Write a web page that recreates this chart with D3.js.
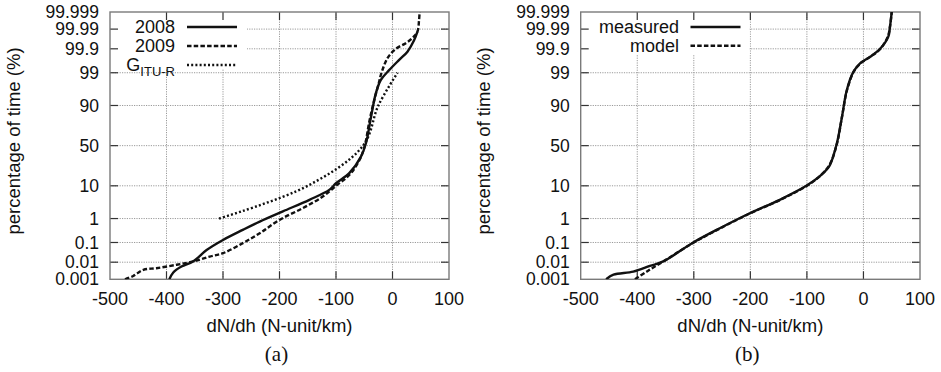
<!DOCTYPE html>
<html>
<head>
<meta charset="utf-8">
<script src="https://cdn.jsdelivr.net/npm/d3@7"></script>
<style>
  body { margin: 0; background: #fff; }
  text { font-family: "Liberation Sans", Arial, sans-serif; fill: #111; }
</style>
</head>
<body>
<script>
// tick values
const xTicks = [-500, -400, -300, -200, -100, 0, 100];
const yTickPct = [0.001, 0.01, 0.1, 1, 10, 50, 90, 99, 99.9, 99.99, 99.999];
const yTickLabels = ["0.001", "0.01", "0.1", "1", "10", "50", "90", "99", "99.9", "99.99", "99.999"];

// panel (a): [dN/dh, percentage of time]
const year2008 = [
  [-395, 0.001], [-388, 0.0026], [-373.5, 0.0057], [-353, 0.011], [-329, 0.043],
  [-300, 0.13], [-265, 0.36], [-235, 0.77], [-194, 1.8], [-147, 4.2], [-112, 7.9],
  [-100, 11.5], [-76.5, 19], [-56, 36], [-47, 53], [-38, 82], [-29.4, 95.3],
  [-20.6, 98.2], [-6, 99.2], [11.8, 99.69], [26.5, 99.865], [38, 99.96], [44, 99.986]
];
const year2009 = [
  [-473.5, 0.001], [-459, 0.0016], [-441, 0.0037], [-418, 0.0046], [-382, 0.0072],
  [-353, 0.011], [-323.5, 0.02], [-300, 0.03], [-265, 0.093], [-235, 0.26],
  [-200, 0.89], [-159, 2.3], [-123.5, 5.2], [-100, 10], [-76, 17.6], [-58, 33],
  [-49, 50], [-41, 78], [-32, 93], [-24, 97.8], [-20.6, 98.8], [-8.8, 99.74],
  [6, 99.9], [23.5, 99.946], [35, 99.97], [44, 99.986], [47, 99.997], [48, 99.999]
];
const ituR = [[-307, 1], [-150, 10], [-52, 50], [-25, 90], [8.8, 99]];

// panel (b)
const measured = [
  [-455, 0.001], [-442, 0.0019], [-407, 0.0029], [-377.6, 0.0062], [-354, 0.011],
  [-301, 0.1], [-254, 0.42], [-201, 1.55], [-148, 4.2], [-101, 10], [-77, 16.5],
  [-63, 23.5], [-59, 27], [-47, 53], [-38, 82], [-29.4, 96.2], [-17.6, 99.09],
  [-6, 99.57], [11.8, 99.77], [29.4, 99.9], [44, 99.975], [47, 99.993], [50, 99.999]
];
const model = [
  [-404, 0.001], [-383.5, 0.0029], [-354, 0.011], [-300, 0.1], [-253, 0.42],
  [-200, 1.55], [-147, 4.2], [-100, 10], [-76, 17], [-60, 27], [-47, 52],
  [-38, 82], [-29, 96.2], [-17, 99.1], [-5, 99.57], [12, 99.77], [30, 99.9],
  [43, 99.975], [47, 99.993], [50, 99.999]
];

// inverse normal CDF (Acklam), used for the probability axis
function probit(p) {
  const a = [-3.969683028665376e+01, 2.209460984245205e+02, -2.759285104469687e+02, 1.383577518672690e+02, -3.066479806614716e+01, 2.506628277459239e+00];
  const b = [-5.447609879822406e+01, 1.615858368580409e+02, -1.556989798598866e+02, 6.680131188771972e+01, -1.328068155288572e+01];
  const c = [-7.784894002430293e-03, -3.223964580411365e-01, -2.400758277161838e+00, -2.549732539343734e+00, 4.374664141464968e+00, 2.938163982698783e+00];
  const d = [7.784695709041462e-03, 3.224671290700398e-01, 2.445134137142996e+00, 3.754408661907416e+00];
  const pl = 0.02425;
  let q, r;
  if (p < pl) {
    q = Math.sqrt(-2 * Math.log(p));
    return (((((c[0]*q+c[1])*q+c[2])*q+c[3])*q+c[4])*q+c[5]) / ((((d[0]*q+d[1])*q+d[2])*q+d[3])*q+1);
  } else if (p <= 1 - pl) {
    q = p - 0.5; r = q * q;
    return (((((a[0]*r+a[1])*r+a[2])*r+a[3])*r+a[4])*r+a[5])*q / (((((b[0]*r+b[1])*r+b[2])*r+b[3])*r+b[4])*r+1);
  } else {
    q = Math.sqrt(-2 * Math.log(1 - p));
    return -(((((c[0]*q+c[1])*q+c[2])*q+c[3])*q+c[4])*q+c[5]) / ((((d[0]*q+d[1])*q+d[2])*q+d[3])*q+1);
  }
}

const W = 941, H = 372;
const plotTop = 12, plotBottom = 279.3;

const svg = d3.select("body").append("svg")
  .attr("width", W).attr("height", H)
  .attr("xmlns", "http://www.w3.org/2000/svg");

const styles = {
  solid: null,
  dashed: "4.5,2.2",
  dotted: "2,2.2"
};

function drawPanel(id, left, right, series, legend, caption) {
  const x = d3.scaleLinear().domain([-500, 100]).range([left, right]);
  const z = d3.scaleLinear().domain([probit(0.00001), probit(0.99999)]).range([plotBottom, plotTop]);
  const y = pct => z(probit(pct / 100));

  const g = svg.append("g");

  // grid
  const grid = g.append("g").attr("stroke", "#9a9a9a").attr("stroke-width", 1)
    .attr("stroke-dasharray", "1.2,1.2");
  grid.selectAll("line.v").data(xTicks.slice(1, -1)).enter().append("line")
    .attr("x1", d => x(d)).attr("x2", d => x(d)).attr("y1", plotTop).attr("y2", plotBottom);
  grid.selectAll("line.h").data(yTickPct.slice(1, -1)).enter().append("line")
    .attr("x1", left).attr("x2", right).attr("y1", d => y(d)).attr("y2", d => y(d));

  // legend box hides the grid behind it
  g.append("rect")
    .attr("x", left + 1).attr("y", plotTop + 1)
    .attr("width", legend.boxW).attr("height", legend.boxH)
    .attr("fill", "#fff");

  // ticks, inward on all four sides
  const tk = g.append("g").attr("stroke", "#333").attr("stroke-width", 1.2);
  xTicks.slice(1, -1).forEach(v => {
    tk.append("line").attr("x1", x(v)).attr("x2", x(v)).attr("y1", plotBottom).attr("y2", plotBottom - 8);
    tk.append("line").attr("x1", x(v)).attr("x2", x(v)).attr("y1", plotTop).attr("y2", plotTop + 8);
  });
  yTickPct.slice(1, -1).forEach(p => {
    tk.append("line").attr("x1", left).attr("x2", left + 8).attr("y1", y(p)).attr("y2", y(p));
    tk.append("line").attr("x1", right).attr("x2", right - 8).attr("y1", y(p)).attr("y2", y(p));
  });

  // frame
  g.append("rect")
    .attr("x", left).attr("y", plotTop)
    .attr("width", right - left).attr("height", plotBottom - plotTop)
    .attr("fill", "none").attr("stroke", "#7a7a7a").attr("stroke-width", 1.4);

  // tick labels
  g.selectAll("text.xl").data(xTicks).enter().append("text")
    .attr("x", d => x(d)).attr("y", 304.5)
    .attr("text-anchor", "middle").attr("font-size", 18)
    .text(d => d);
  g.selectAll("text.yl").data(yTickPct).enter().append("text")
    .attr("x", left - 11).attr("y", d => y(d))
    .attr("dy", "0.35em")
    .attr("text-anchor", "end").attr("font-size", 17.5)
    .text((d, i) => yTickLabels[i]);

  // axis titles
  g.append("text")
    .attr("x", (left + right) / 2).attr("y", 332)
    .attr("text-anchor", "middle").attr("font-size", 18.5)
    .text("dN/dh (N-unit/km)");
  g.append("text")
    .attr("transform", `translate(${left - 90.5},141) rotate(-90)`)
    .attr("text-anchor", "middle").attr("font-size", 18.5)
    .text("percentage of time (%)");
  g.append("text")
    .attr("x", (left + right) / 2 - 3).attr("y", 361)
    .attr("text-anchor", "middle").attr("font-size", 21)
    .style("font-family", "'Liberation Serif', 'DejaVu Serif', serif")
    .text(caption);

  // curves
  svg.append("clipPath").attr("id", "clip-" + id)
    .append("rect").attr("x", left).attr("y", plotTop)
    .attr("width", right - left).attr("height", plotBottom - plotTop);

  const line = d3.line()
    .x(d => x(d[0]))
    .y(d => y(d[1]))
    .curve(d3.curveCatmullRom.alpha(0.5));

  const curves = g.append("g").attr("clip-path", `url(#clip-${id})`);
  series.forEach(s => {
    curves.append("path")
      .datum(s.data)
      .attr("d", line)
      .attr("fill", "none")
      .attr("stroke", "#111")
      .attr("stroke-width", 2.4)
      .attr("stroke-dasharray", styles[s.style]);
  });

  // legend entries
  series.forEach((s, i) => {
    const ly = 27 + i * legend.step;
    const t = g.append("text")
      .attr("x", legend.textEnd).attr("y", ly)
      .attr("dy", "0.35em")
      .attr("text-anchor", "end").attr("font-size", 18);
    if (s.sub) {
      t.append("tspan").text(s.name);
      t.append("tspan").attr("font-size", 13).attr("dy", "0.35em").text(s.sub);
    } else {
      t.text(s.name);
    }
    g.append("line")
      .attr("x1", legend.lineStart).attr("x2", legend.lineStart + 50)
      .attr("y1", ly).attr("y2", ly)
      .attr("stroke", "#111").attr("stroke-width", 2.4)
      .attr("stroke-dasharray", styles[s.style]);
  });
}

drawPanel("a", 110, 449,
  [
    { name: "2008", style: "solid", data: year2008 },
    { name: "2009", style: "dashed", data: year2009 },
    { name: "G", sub: "ITU-R", style: "dotted", data: ituR }
  ],
  { textEnd: 175, lineStart: 187, step: 19, boxW: 136, boxH: 56 },
  "(a)");

drawPanel("b", 580.7, 920,
  [
    { name: "measured", style: "solid", data: measured },
    { name: "model", style: "dashed", data: model }
  ],
  { textEnd: 679, lineStart: 690.5, step: 18.7, boxW: 168, boxH: 41 },
  "(b)");
</script>
</body>
</html>
